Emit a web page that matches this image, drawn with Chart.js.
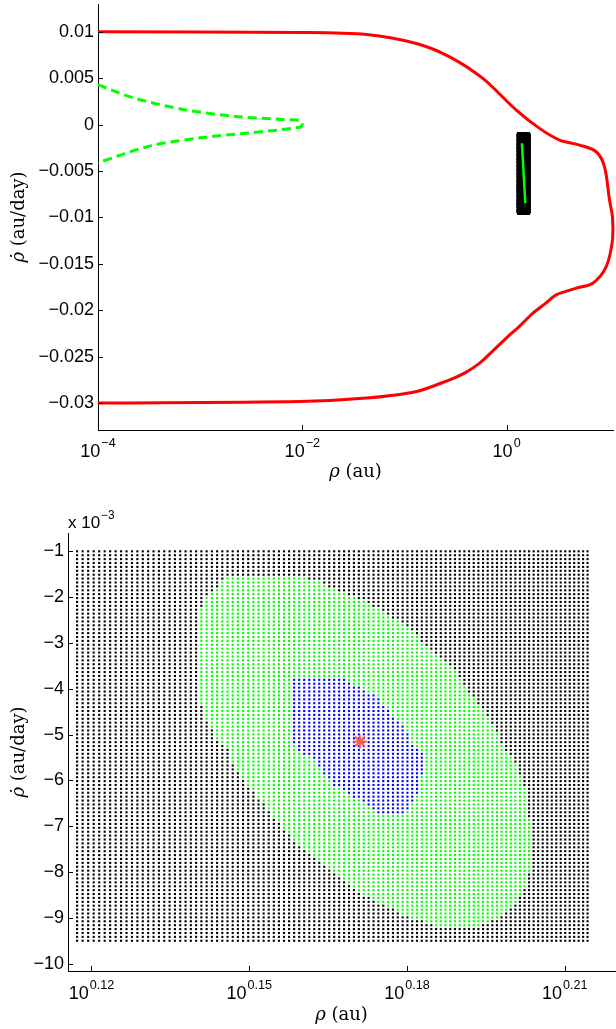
<!DOCTYPE html>
<html>
<head>
<meta charset="utf-8">
<script src="https://cdn.jsdelivr.net/npm/chart.js@4.4.0/dist/chart.umd.min.js"></script>
<style>
  html, body { margin: 0; padding: 0; background: #fff; }
  #wrap { position: relative; width: 616px; height: 1029px; }
  canvas { position: absolute; left: 0; }
  #top { top: 0; }
  #bottom { top: 500px; }
</style>
</head>
<body>
<div id="wrap">
  <canvas id="top" width="616" height="500"></canvas>
  <canvas id="bottom" width="616" height="529"></canvas>
</div>
<script>
// ---- top panel: admissible region boundary (red) and curve (green dashed)
const redRho = [1e-4, 0.0095, 0.0425, 0.131, 0.277, 0.586, 1.245, 2.10, 3.30, 5.18, 7.54, 9.08, 10.17, 10.88, 10.88, 9.44, 6.98, 4.81, 3.06, 2.37, 1.81, 1.349, 0.993, 0.734, 0.545, 0.391, 0.277, 0.131, 0.0425, 0.0095, 1e-4];
const redRhodot = [0.0100, 0.00994, 0.00972, 0.00875, 0.00731, 0.00498, 0.00157, -0.00040, -0.00166, -0.00220, -0.00292, -0.00453, -0.00812, -0.01000, -0.01242, -0.01530, -0.01708, -0.01762, -0.01834, -0.01931, -0.02031, -0.02168, -0.02300, -0.02437, -0.02569, -0.02674, -0.02749, -0.02875, -0.02946, -0.02983, -0.0300];

const greenRho = [1.0e-4, 2.2e-4, 6.8e-4, 2.1e-3, 6.5e-3, 9.5e-3, 0.0100, 9.5e-3, 3.07e-3, 1.0e-3, 3.2e-4, 1.0e-4];
const greenRhodot = [0.0043, 0.0029, 0.00164, 0.00091, 0.00056, 0.00045, 0.00008, -0.00027, -0.00088, -0.00142, -0.00231, -0.0041];

// thin green segment inside the grid box
const segRho = [1.412, 1.524];
const segRhodot = [-0.0020, -0.00846];

// nominal solution (star)
const starRho = [1.4826];
const starRhodot = [-0.00515];

// sampling grid of the lower panel
const gridRhoLimits = [1.31, 1.638];
const gridRhoCount = 104;
const gridRhodotLimits = [-0.001, -0.0095];
const gridRhodotCount = 101;

// outlines of the coloured regions
const greenRegionRho = [1.3987, 1.4508, 1.4677, 1.4829, 1.4959, 1.5088, 1.5224, 1.5356, 1.5467, 1.5539, 1.5629, 1.5719, 1.5787, 1.5857, 1.5905, 1.5952, 1.5975, 1.5975, 1.5926, 1.5857, 1.5764, 1.5629, 1.5334, 1.5157, 1.5002, 1.4872, 1.4780, 1.4653, 1.4550, 1.4441, 1.4400, 1.4328, 1.4255, 1.4162, 1.4085, 1.4025, 1.4007, 1.3926, 1.3866, 1.3801, 1.3801, 1.3825, 1.3850, 1.3896, 1.3934];
const greenRegionRhodot = [-0.00152, -0.00160, -0.001837, -0.002056, -0.002274, -0.002558, -0.002930, -0.003295, -0.003651, -0.004023, -0.004388, -0.004825, -0.005262, -0.005553, -0.005918, -0.006274, -0.007149, -0.007885, -0.008460, -0.008760, -0.008978, -0.00918, -0.00918, -0.008978, -0.008760, -0.008541, -0.008322, -0.008023, -0.007739, -0.007448, -0.007302, -0.007017, -0.006711, -0.006274, -0.005990, -0.005619, -0.005334, -0.005116, -0.004679, -0.004089, -0.002493, -0.002274, -0.002056, -0.001903, -0.001772];
const blueRegionRho = [1.4416, 1.4717, 1.4808, 1.4937, 1.5023, 1.5136, 1.5179, 1.5235, 1.5244, 1.5224, 1.5202, 1.5177, 1.5108, 1.4978, 1.4872, 1.4761, 1.4653, 1.4590, 1.4550, 1.4441, 1.4392, 1.4379];
const blueRegionRhodot = [-0.00372, -0.00372, -0.003951, -0.004169, -0.004526, -0.004897, -0.005262, -0.005378, -0.005772, -0.006056, -0.006274, -0.006493, -0.00678, -0.00678, -0.006537, -0.006318, -0.006099, -0.005815, -0.005597, -0.005378, -0.005116, -0.004023];

// axes
const topXExp = [-4, -2, 0];
const topYTicks = [0.01, 0.005, 0, -0.005, -0.01, -0.015, -0.02, -0.025, -0.03];
const bottomXExp = [0.12, 0.15, 0.18, 0.21];
const bottomYTicks = [-0.001, -0.002, -0.003, -0.004, -0.005, -0.006, -0.007, -0.008, -0.009, -0.010];

const SANS = "'Liberation Sans', Arial, sans-serif";
const SERIF = "'DejaVu Serif', serif";

const pts = (xs, ys) => xs.map((x, i) => ({ x: x, y: ys[i] }));
const minus = s => s.replace('-', '\u2212');

function insidePoly(xs, ys, px, py) {
    let c = false;
    for (let i = 0, j = xs.length - 1; i < xs.length; j = i++) {
        if ((ys[i] > py) !== (ys[j] > py) &&
            px < (xs[j] - xs[i]) * (py - ys[i]) / (ys[j] - ys[i]) + xs[i]) c = !c;
    }
    return c;
}

// build the grid and split it by region
const gridAll = [], gridBlack = [], gridGreen = [], gridBlue = [];
for (let j = 0; j < gridRhodotCount; j++) {
    const v = gridRhodotLimits[0] + (gridRhodotLimits[1] - gridRhodotLimits[0]) * j / (gridRhodotCount - 1);
    for (let i = 0; i < gridRhoCount; i++) {
        const r = gridRhoLimits[0] + (gridRhoLimits[1] - gridRhoLimits[0]) * i / (gridRhoCount - 1);
        const p = { x: r, y: v };
        gridAll.push(p);
        if (insidePoly(blueRegionRho, blueRegionRhodot, r, v)) gridBlue.push(p);
        else if (insidePoly(greenRegionRho, greenRegionRhodot, r, v)) gridGreen.push(p);
        else gridBlack.push(p);
    }
}

function drawPow(ctx, base, sup, x, baseline, size, align) {
    const supSize = size * 0.7;
    ctx.font = size + 'px ' + SANS;
    const wb = ctx.measureText(base).width;
    ctx.font = supSize + 'px ' + SANS;
    const ws = ctx.measureText(sup).width;
    const x0 = align === 'left' ? x : x - (wb + ws + 1) / 2;
    ctx.textAlign = 'left';
    ctx.textBaseline = 'alphabetic';
    ctx.font = size + 'px ' + SANS;
    ctx.fillText(base, x0, baseline);
    ctx.font = supSize + 'px ' + SANS;
    ctx.fillText(sup, x0 + wb + 1, baseline - size * 0.55);
}

function drawParts(ctx, parts, x, baseline, centered) {
    let w = 0;
    parts.forEach(p => { ctx.font = p[1]; w += ctx.measureText(p[0]).width; });
    let x0 = centered ? x - w / 2 : x;
    ctx.textAlign = 'left';
    ctx.textBaseline = 'alphabetic';
    parts.forEach(p => { ctx.font = p[1]; ctx.fillText(p[0], x0, baseline); x0 += ctx.measureText(p[0]).width; });
}

// inward ticks, superscript tick labels and axis titles
const decor = {
    id: 'decor',
    afterDraw(chart, args, opts) {
        const ctx = chart.ctx;
        const xs = chart.scales.x, ys = chart.scales.y;
        const a = chart.chartArea;
        ctx.save();
        ctx.strokeStyle = '#000';
        ctx.lineWidth = 1;
        ctx.beginPath();
        ys.ticks.forEach(t => {
            const py = Math.round(ys.getPixelForValue(t.value)) + 0.5;
            ctx.moveTo(a.left, py); ctx.lineTo(a.left + 5, py);
        });
        xs.ticks.forEach(t => {
            const px = Math.round(xs.getPixelForValue(t.value)) + 0.5;
            ctx.moveTo(px, a.bottom); ctx.lineTo(px, a.bottom - 5);
        });
        ctx.stroke();

        ctx.fillStyle = '#000';
        opts.xExp.forEach(e => {
            drawPow(ctx, '10', minus(String(e)), xs.getPixelForValue(Math.pow(10, e)), a.bottom + opts.labelGap, 18, 'center');
        });

        const titleSize = 18;
        drawParts(ctx, [['\u03c1', 'italic ' + titleSize + 'px ' + SERIF], [' (au)', titleSize + 'px ' + SERIF]],
            (a.left + a.right) / 2, a.bottom + opts.titleGap, true);

        ctx.save();
        ctx.translate(24, (a.top + a.bottom) / 2);
        ctx.rotate(-Math.PI / 2);
        drawParts(ctx, [['\u03c1\u0307', 'italic ' + titleSize + 'px ' + SERIF], [' (au/day)', titleSize + 'px ' + SERIF]], 0, 0, true);
        ctx.restore();

        if (opts.exponent) drawPow(ctx, 'x 10', opts.exponent, a.left, a.top - 5, 17, 'left');
        ctx.restore();
    }
};

Chart.defaults.font.family = SANS;
Chart.defaults.color = '#000';

function axisX(min, max, exps, height) {
    return {
        type: 'logarithmic', min: min, max: max,
        afterBuildTicks: s => { s.ticks = exps.map(e => ({ value: Math.pow(10, e) })); },
        afterFit: s => { s.height = height; s.paddingLeft = 0; s.paddingRight = 0; },
        ticks: { display: false },
        grid: { display: false, drawTicks: false },
        border: { color: '#000', width: 1 }
    };
}

function axisY(min, max, ticks, width, fmt) {
    return {
        type: 'linear', min: min, max: max,
        afterBuildTicks: s => { s.ticks = ticks.map(v => ({ value: v })); },
        afterFit: s => { s.width = width; s.paddingTop = 0; s.paddingBottom = 0; },
        ticks: { font: { size: 18, family: SANS }, color: '#000', padding: 4, callback: fmt },
        grid: { display: false, drawTicks: false },
        border: { color: '#000', width: 1 }
    };
}

const common = {
    responsive: false,
    animation: false,
    events: [],
    plugins: { legend: { display: false }, tooltip: { enabled: false } }
};

const starSet = {
    data: pts(starRho, starRhodot),
    pointStyle: 'star', pointRadius: 7, pointBorderWidth: 2,
    pointBorderColor: '#ff5a3c', pointBackgroundColor: '#ff5a3c'
};

new Chart(document.getElementById('top'), {
    type: 'scatter',
    data: {
        datasets: [
            { data: pts(segRho, segRhodot), showLine: true, borderColor: '#00ff00', borderWidth: 2.5, pointRadius: 0, order: 0 },
            { data: gridAll, pointRadius: 2, pointStyle: 'circle', pointBackgroundColor: '#000', pointBorderWidth: 0, order: 1 },
            Object.assign({ order: 2 }, starSet),
            { data: pts(redRho, redRhodot), showLine: true, borderColor: '#ff0000', borderWidth: 3, tension: 0.3, pointRadius: 0, clip: false, order: 3 },
            { data: pts(greenRho, greenRhodot), showLine: true, borderColor: '#00ff00', borderWidth: 3, borderDash: [9, 5], tension: 0.3, pointRadius: 0, order: 3 }
        ]
    },
    options: Object.assign({}, common, {
        layout: { autoPadding: false, padding: { left: 0, top: 4, right: 3, bottom: 0 } },
        scales: {
            x: axisX(1e-4, 11, topXExp, 70),
            y: axisY(-0.0329, 0.013, topYTicks, 98, v => minus(String(v)))
        },
        plugins: Object.assign({}, common.plugins, { decor: { xExp: topXExp, labelGap: 27, titleGap: 47 } })
    }),
    plugins: [decor]
});

new Chart(document.getElementById('bottom'), {
    type: 'scatter',
    data: {
        datasets: [
            Object.assign({ order: 0 }, starSet),
            { data: gridBlue, pointRadius: 1.5, pointStyle: 'rect', pointBackgroundColor: '#0000ff', pointBorderWidth: 0, order: 1 },
            { data: gridGreen, pointRadius: 1.5, pointStyle: 'rect', pointBackgroundColor: '#00ff00', pointBorderWidth: 0, order: 2 },
            { data: gridBlack, pointRadius: 1.5, pointStyle: 'rect', pointBackgroundColor: '#000', pointBorderWidth: 0, order: 3 }
        ]
    },
    options: Object.assign({}, common, {
        layout: { autoPadding: false, padding: { left: 0, top: 33, right: 1, bottom: 0 } },
        scales: {
            x: axisX(1.3048, 1.6578, bottomXExp, 58),
            y: axisY(-0.01016, -0.0006, bottomYTicks, 68, v => minus(String(Math.round(v * 1000))))
        },
        plugins: Object.assign({}, common.plugins, { decor: { xExp: bottomXExp, labelGap: 28, titleGap: 49, exponent: '\u22123' } })
    }),
    plugins: [decor]
});
</script>
</body>
</html>
